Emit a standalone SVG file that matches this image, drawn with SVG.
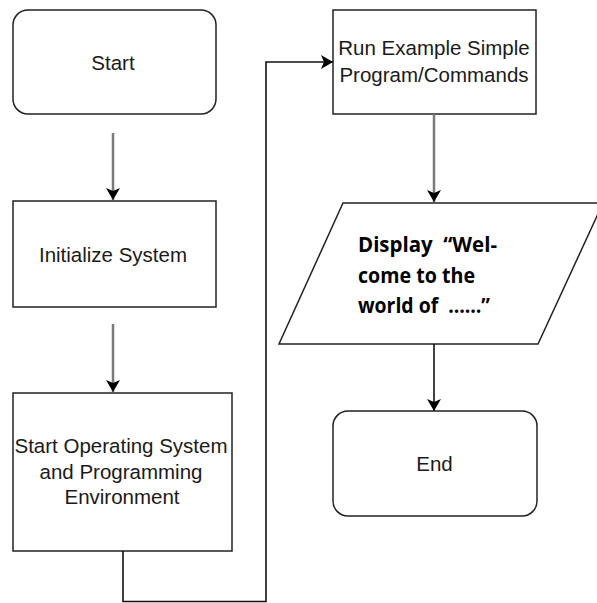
<svg xmlns="http://www.w3.org/2000/svg" width="597" height="603" viewBox="0 0 597 603">
<style>
.box{fill:#fff;stroke:#222;stroke-width:1.5}
.t{font-family:"Liberation Sans",Arial,sans-serif;font-size:20.5px;fill:#1a1a1a;text-anchor:middle}
.b{font-family:"Open Sans","Liberation Sans",Arial,sans-serif;font-size:20.5px;font-weight:bold;fill:#000;white-space:pre}
.g{fill:none;stroke:#7a7a7a;stroke-width:2.5}
.k{fill:none;stroke:#111;stroke-width:1.6}
</style>
<defs>
<marker id="ah" viewBox="0 0 12 14" refX="12" refY="7" markerWidth="13" markerHeight="14" markerUnits="userSpaceOnUse" orient="auto">
<path d="M0,0 L12,7 L0,14 L3,7 Z" fill="#000"/>
</marker>
</defs>
<rect width="597" height="603" fill="#fff"/>
<g id="start">
<rect class="box" x="13" y="10" width="203" height="104" rx="15" ry="15"/>
<text class="t" x="113" y="70">Start</text>
</g>
<g id="init">
<rect class="box" x="13" y="201" width="203" height="106"/>
<text class="t" x="113" y="262">Initialize System</text>
</g>
<g id="startos">
<rect class="box" x="13" y="393" width="219" height="158"/>
<text class="t" x="121" y="453">Start Operating System</text>
<text class="t" x="121" y="479">and Programming</text>
<text class="t" x="122" y="504">Environment</text>
</g>
<g id="run">
<rect class="box" x="333" y="10" width="203" height="104"/>
<text class="t" x="434" y="55">Run Example Simple</text>
<text class="t" x="434" y="82">Program/Commands</text>
</g>
<g id="display">
<polygon class="box" points="343,203 603,203 538,344 279,344"/>
<text class="b" x="358" y="252" textLength="139" lengthAdjust="spacingAndGlyphs" xml:space="preserve">Display  “Wel-</text>
<text class="b" x="358" y="283" textLength="117" lengthAdjust="spacingAndGlyphs">come to the</text>
<text class="b" x="358" y="313" textLength="132" lengthAdjust="spacingAndGlyphs" xml:space="preserve">world of  ……”</text>
</g>
<g id="end">
<rect class="box" x="333" y="411" width="204" height="105" rx="15" ry="15"/>
<text class="t" x="434.5" y="471">End</text>
</g>
<g id="connectors">
<path class="g" d="M113,133 L113,200" marker-end="url(#ah)"/>
<path class="g" d="M113,324 L113,392" marker-end="url(#ah)"/>
<path class="k" d="M123,551 L123,601.5 L266,601.5 L266,62 L333,62" marker-end="url(#ah)"/>
<path class="g" d="M434,114 L434,202" marker-end="url(#ah)"/>
<path class="k" d="M434,344 L434,411" marker-end="url(#ah)"/>
</g>
</svg>
